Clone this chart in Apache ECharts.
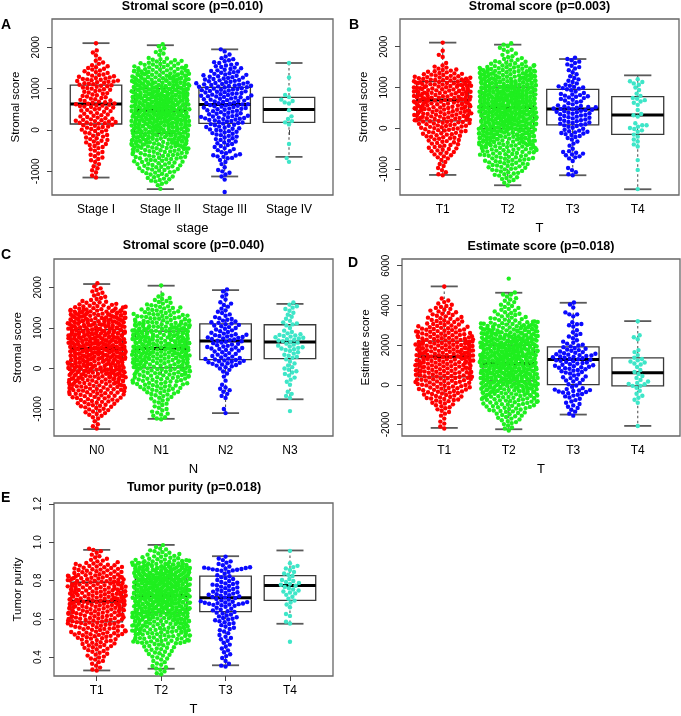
<!DOCTYPE html>
<html><head><meta charset="utf-8">
<script src="https://cdn.jsdelivr.net/npm/echarts@6/dist/echarts.min.js"></script>
<style>html,body{margin:0;padding:0;background:#fff}#c{width:681px;height:716px}</style>
</head><body><div id="c"></div><script>
// ---------- categories & tick labels ----------
const stageCats = ['Stage I', 'Stage II', 'Stage III', 'Stage IV'];
const tCats = ['T1', 'T2', 'T3', 'T4'];
const nCats = ['N0', 'N1', 'N2', 'N3'];
const stromalTicks = [-1000, 0, 1000, 2000];
const estimateTicks = [-2000, 0, 2000, 4000, 6000];
const purityTicks = [0.4, 0.6, 0.8, 1.0, 1.2];

// ---------- point rows: [value, number of points at that value] ----------
// A: Stromal score by stage
const aStage1 = [[2100,1],[1900,2],[1800,1],[1700,2],[1600,3],[1500,5],[1400,5],[1300,7],[1200,10],[1100,8],[1000,7],[900,6],[800,6],[700,7],[600,9],[500,7],[400,6],[300,7],[200,10],[100,7],[0,6],[-100,5],[-200,5],[-300,5],[-400,4],[-500,3],[-600,3],[-700,3],[-800,2],[-900,2],[-1000,2],[-1100,1],[-1150,1]];
const aStage2 = [[2050,2],[1950,2],[1850,3],[1700,7],[1600,10],[1500,13],[1400,18],[1300,20],[1200,22],[1100,24],[1000,26],[900,28],[800,30],[700,30],[600,30],[500,30],[400,30],[300,28],[200,28],[100,26],[0,26],[-100,24],[-200,22],[-300,20],[-400,18],[-500,14],[-600,12],[-700,11],[-800,10],[-900,9],[-1000,8],[-1100,6],[-1200,6],[-1300,3],[-1420,1]];
const aStage3 = [[1950,1],[1900,1],[1800,2],[1700,4],[1600,5],[1500,6],[1400,7],[1300,9],[1200,9],[1100,12],[1000,11],[900,10],[800,11],[700,9],[600,10],[500,9],[400,8],[300,11],[200,8],[100,7],[0,7],[-100,6],[-200,5],[-300,5],[-400,4],[-500,4],[-600,4],[-650,3],[-700,2],[-800,2],[-900,1],[-1000,3],[-1100,2],[-1200,1],[-1500,1]];
const aStage4 = [[1620,1],[1270,1],[980,1],[820,2],[700,3],[640,1],[480,1],[330,1],[240,2],[160,2],[-340,1],[-680,1],[-770,1]];
const aBox = [[-1150,145,627,1085,2100],[-1430,-80,480,1000,2050],[-1124,160,618,1030,1950],[-650,185,498,787,1620]];

// B: Stromal score by T
const bT1 = [[2100,1],[1900,1],[1800,1],[1750,1],[1600,1],[1500,4],[1400,7],[1300,10],[1200,15],[1100,17],[1000,17],[900,18],[800,17],[700,18],[600,17],[500,16],[400,15],[300,15],[200,15],[100,11],[0,10],[-100,9],[-200,8],[-300,7],[-400,6],[-500,6],[-600,5],[-700,4],[-800,2],[-900,2],[-1000,2],[-1100,2],[-1150,1]];
const bT2 = [[2050,3],[1950,2],[1900,2],[1800,3],[1700,5],[1600,8],[1500,14],[1400,18],[1300,20],[1200,22],[1100,24],[1000,26],[900,28],[800,30],[700,30],[600,30],[500,30],[400,30],[300,28],[200,28],[100,26],[0,26],[-100,24],[-200,22],[-300,20],[-400,18],[-500,14],[-600,12],[-700,11],[-800,10],[-900,9],[-1000,8],[-1100,6],[-1200,5],[-1300,3],[-1400,1]];
const bT3 = [[1700,3],[1600,3],[1500,3],[1400,2],[1300,2],[1200,3],[1100,3],[1000,7],[900,3],[800,7],[700,5],[600,4],[500,10],[400,8],[300,7],[200,7],[100,7],[0,4],[-100,7],[-200,4],[-300,2],[-400,2],[-500,1],[-600,5],[-700,4],[-800,1],[-1000,2],[-1100,2],[-1150,1]];
const bT4 = [[1180,2],[1100,3],[1000,1],[940,1],[850,1],[770,2],[690,3],[600,2],[450,1],[320,3],[100,2],[40,3],[-50,3],[-180,2],[-300,2],[-420,2],[-780,1],[-1020,1],[-1490,1]];
const bBox = [[-1143,180,694,1143,2100],[-1396,-10,510,1010,2050],[-1151,82,473,955,1698],[-1494,-147,327,776,1298]];

// C: Stromal score by N
const cN0 = [[2100,1],[2000,2],[1900,3],[1800,3],[1700,4],[1600,8],[1500,12],[1400,20],[1300,20],[1200,22],[1100,22],[1000,23],[900,24],[800,24],[700,25],[600,25],[500,25],[400,24],[300,24],[200,23],[100,22],[0,22],[-100,21],[-200,19],[-300,18],[-400,16],[-500,14],[-600,13],[-700,11],[-800,9],[-900,8],[-1000,6],[-1100,5],[-1200,3],[-1300,1],[-1400,2],[-1480,1]];
const cN1 = [[2050,1],[1800,2],[1700,4],[1600,5],[1500,8],[1400,9],[1300,12],[1200,14],[1100,17],[1000,19],[900,20],[800,21],[700,21],[600,22],[500,22],[400,21],[300,20],[200,19],[100,17],[0,16],[-100,15],[-200,13],[-300,12],[-400,11],[-500,9],[-600,7],[-700,5],[-800,4],[-900,3],[-1000,3],[-1100,4],[-1200,3],[-1250,1]];
const cN2 = [[1950,1],[1900,1],[1800,2],[1700,1],[1600,3],[1500,2],[1400,3],[1300,3],[1200,5],[1100,6],[1000,5],[900,5],[800,9],[700,7],[600,6],[500,8],[400,5],[300,6],[200,9],[100,7],[0,3],[-100,2],[-200,1],[-300,1],[-400,1],[-500,3],[-600,2],[-700,2],[-1000,1],[-1100,1]];
const cN3 = [[1600,2],[1500,3],[1400,2],[1300,2],[1200,2],[1100,4],[1000,1],[900,3],[800,7],[700,6],[600,4],[500,6],[400,3],[300,4],[200,2],[100,2],[0,3],[-100,3],[-200,2],[-300,2],[-400,1],[-600,2],[-700,2],[-1050,1]];
const cBox = [[-1494,-40,490,960,2082],[-1241,16,490,922,2041],[-1100,220,677,1100,1932],[-759,245,653,1078,1592]];

// D: Estimate score by T
const dT1 = [[4950,1],[4300,2],[4100,3],[3900,4],[3700,5],[3500,6],[3300,7],[3100,8],[2900,10],[2700,12],[2500,13],[2300,14],[2100,16],[1900,16],[1700,17],[1500,17],[1300,17],[1100,16],[900,16],[700,15],[500,14],[300,13],[100,12],[-100,11],[-300,10],[-500,8],[-700,8],[-900,5],[-1100,4],[-1300,3],[-1500,2],[-1700,1],[-1900,2],[-2100,1],[-2200,1]];
const dT2 = [[5350,1],[4600,2],[4500,2],[4300,3],[4100,3],[3900,4],[3700,5],[3500,6],[3300,8],[3100,14],[2900,18],[2700,20],[2500,22],[2300,24],[2100,26],[1900,28],[1700,28],[1500,28],[1300,28],[1100,28],[900,28],[700,28],[500,26],[300,26],[100,24],[-100,22],[-300,20],[-500,17],[-700,14],[-900,12],[-1100,10],[-1300,8],[-1500,6],[-1700,5],[-1900,4],[-2100,2],[-2250,2]];
const dT3 = [[4100,2],[3900,1],[3600,2],[3500,2],[3100,2],[3000,3],[2700,2],[2500,3],[2300,2],[2100,4],[1900,5],[1700,6],[1500,9],[1300,8],[1100,7],[900,8],[700,6],[500,4],[300,5],[100,3],[-100,3],[-300,8],[-500,5],[-700,3],[-900,3],[-1100,3],[-1300,2],[-1500,2]];
const dT4 = [[3200,1],[2450,2],[2300,1],[1700,2],[1500,1],[1300,3],[1100,4],[900,1],[700,2],[500,2],[300,2],[100,3],[0,2],[-100,2],[-300,1],[-500,2],[-700,2],[-900,1],[-2070,1]];
const dBox = [[-2168,403,1412,2200,4958],[-2235,202,1076,2000,4639],[-1496,17,1277,1916,4134],[-2067,-50,605,1361,3210]];

// E: Tumor purity by T
const eT1 = [[0.96,3],[0.94,2],[0.92,3],[0.90,5],[0.88,9],[0.86,10],[0.84,10],[0.82,15],[0.80,14],[0.78,15],[0.76,15],[0.74,16],[0.72,15],[0.70,16],[0.68,15],[0.66,15],[0.64,14],[0.62,14],[0.60,13],[0.58,12],[0.56,11],[0.54,10],[0.52,12],[0.50,8],[0.48,7],[0.46,7],[0.44,5],[0.42,4],[0.40,4],[0.38,3],[0.36,2],[0.34,2],[0.33,1]];
const eT2 = [[0.98,2],[0.96,4],[0.94,6],[0.92,8],[0.90,14],[0.88,22],[0.86,24],[0.84,26],[0.82,28],[0.80,30],[0.78,30],[0.76,30],[0.74,30],[0.72,30],[0.70,28],[0.68,28],[0.66,26],[0.64,24],[0.62,22],[0.60,20],[0.58,18],[0.56,16],[0.54,16],[0.52,15],[0.50,12],[0.48,14],[0.46,6],[0.44,6],[0.42,5],[0.40,4],[0.38,3],[0.36,3],[0.34,3],[0.32,2],[0.31,1]];
const eT3 = [[0.92,2],[0.90,3],[0.88,3],[0.86,11],[0.84,2],[0.82,4],[0.80,4],[0.78,6],[0.76,5],[0.74,6],[0.72,7],[0.70,5],[0.68,11],[0.66,4],[0.64,5],[0.62,4],[0.60,5],[0.58,4],[0.56,3],[0.54,3],[0.52,2],[0.50,3],[0.48,2],[0.46,2],[0.44,2],[0.42,2],[0.40,2],[0.38,1],[0.36,2],[0.35,1]];
const eT4 = [[0.955,1],[0.89,1],[0.87,3],[0.85,2],[0.83,3],[0.80,4],[0.78,4],[0.76,3],[0.74,4],[0.72,2],[0.70,2],[0.68,2],[0.66,1],[0.62,2],[0.58,2],[0.48,1]];
const eBox = [[0.330,0.584,0.692,0.791,0.960],[0.339,0.631,0.722,0.809,0.986],[0.357,0.637,0.710,0.823,0.927],[0.574,0.696,0.774,0.826,0.957]];

// ---------- layout & style ----------
const COLORS = ['#ff0000', '#1fef1f', '#0a0aff', '#3ee6c8'];
const FONT = '"Liberation Sans", Arial, Helvetica, sans-serif';
const BOX_HW = 0.4, CAP_HW = 0.21;
const DOT = 4.4;          // point diameter (px)
const CORRAL = 58;        // swarm wrap width (px)

const panels = [
  { grid: {left: 52, top: 19, width: 281, height: 176}, xr: [0.316, 4.684], yr: [-1572, 2684], cats: stageCats, ticks: stromalTicks, step: 100,
    xName: 'stage', yName: 'Stromal score', title: 'Stromal score (p=0.010)', tx: 192.5, ty: 0, letter: 'A', lx: 1, ly: 18,
    groups: [aStage1, aStage2, aStage3, aStage4], box: aBox },
  { grid: {left: 400, top: 19, width: 279, height: 176}, xr: [0.343, 4.635], yr: [-1635, 2679], cats: tCats, ticks: stromalTicks, step: 100,
    xName: 'T', yName: 'Stromal score', title: 'Stromal score (p=0.003)', tx: 539.5, ty: 0, letter: 'B', lx: 349, ly: 18.5,
    groups: [bT1, bT2, bT3, bT4], box: bBox },
  { grid: {left: 54, top: 259, width: 279, height: 177}, xr: [0.337, 4.668], yr: [-1664, 2699], cats: nCats, ticks: stromalTicks, step: 100,
    xName: 'N', yName: 'Stromal score', title: 'Stromal score (p=0.040)', tx: 193.5, ty: 239.5, letter: 'C', lx: 1, ly: 248,
    groups: [cN0, cN1, cN2, cN3], box: cBox },
  { grid: {left: 402, top: 259, width: 278, height: 177}, xr: [0.345, 4.655], yr: [-2575, 6338], cats: tCats, ticks: estimateTicks, step: 200,
    xName: 'T', yName: 'Estimate score', title: 'Estimate score (p=0.018)', tx: 541, ty: 240, letter: 'D', lx: 348, ly: 256,
    groups: [dT1, dT2, dT3, dT4], box: dBox },
  { grid: {left: 54, top: 503, width: 279, height: 173}, xr: [0.337, 4.668], yr: [0.301, 1.205], cats: tCats, ticks: purityTicks, step: 0.02,
    xName: 'T', yName: 'Tumor purity', title: 'Tumor purity (p=0.018)', tx: 194, ty: 481, letter: 'E', lx: 1, ly: 491,
    groups: [eT1, eT2, eT3, eT4], box: eBox, dec: 1 }
];

function renderBox(params, api) {
  const x = api.value(0), mn = api.value(1), q1 = api.value(2), md = api.value(3), q3 = api.value(4), mx = api.value(5);
  const a = api.coord([x - BOX_HW, q3]), b = api.coord([x + BOX_HW, q1]);
  const m1 = api.coord([x - BOX_HW, md]), m2 = api.coord([x + BOX_HW, md]);
  const t = api.coord([x, mx]), bt = api.coord([x, mn]), c3 = api.coord([x, q3]), c1 = api.coord([x, q1]);
  const cl = api.coord([x - CAP_HW, mx])[0], cr = api.coord([x + CAP_HW, mx])[0];
  const dash = { stroke: '#555', lineWidth: 1.1, lineDash: [2.5, 2.5] };
  const cap = { stroke: '#5a5a5a', lineWidth: 1.8 };
  return { type: 'group', children: [
    { type: 'line', shape: {x1: t[0], y1: t[1], x2: c3[0], y2: c3[1]}, style: dash },
    { type: 'line', shape: {x1: c1[0], y1: c1[1], x2: bt[0], y2: bt[1]}, style: dash },
    { type: 'line', shape: {x1: cl, y1: t[1], x2: cr, y2: t[1]}, style: cap },
    { type: 'line', shape: {x1: cl, y1: bt[1], x2: cr, y2: bt[1]}, style: cap },
    { type: 'rect', shape: {x: a[0], y: a[1], width: b[0] - a[0], height: b[1] - a[1]}, style: {fill: 'none', stroke: '#383838', lineWidth: 1.3} },
    { type: 'line', shape: {x1: m1[0], y1: m1[1], x2: m2[0], y2: m2[1]}, style: {stroke: '#000', lineWidth: 3} }
  ]};
}

const option = { animation: false, backgroundColor: '#fff', title: [], grid: [], xAxis: [], yAxis: [], series: [] };
const catValues = [1, 2, 3, 4];
const scatterRefs = [];
panels.forEach((p, i) => {
  option.grid.push(Object.assign({ show: true, borderColor: '#666', borderWidth: 1.3, backgroundColor: 'transparent', containLabel: false, outerBoundsMode: 'none' }, p.grid));
  option.title.push({ text: p.title, left: p.tx, top: p.ty, textAlign: 'center', padding: 0,
    textStyle: { fontFamily: FONT, fontSize: 12.5, fontWeight: 'bold', color: '#000' } });
  option.title.push({ text: p.letter, left: p.lx, top: p.ly, padding: 0,
    textStyle: { fontFamily: FONT, fontSize: 14, fontWeight: 'bold', color: '#000' } });
  option.xAxis.push({ type: 'value', gridIndex: i, min: p.xr[0], max: p.xr[1],
    axisLine: { show: false }, splitLine: { show: false },
    axisTick: { show: true, length: 5, customValues: catValues, lineStyle: { color: '#444' } },
    axisLabel: { customValues: catValues, formatter: v => p.cats[Math.round(v) - 1], margin: 9, fontFamily: FONT, fontSize: 12, color: '#000' },
    name: p.xName, nameLocation: 'middle', nameGap: 27, nameTextStyle: { fontFamily: FONT, fontSize: 13, color: '#000' } });
  option.yAxis.push({ type: 'value', gridIndex: i, min: p.yr[0], max: p.yr[1],
    axisLine: { show: false }, splitLine: { show: false },
    axisTick: { show: true, length: 5, customValues: p.ticks, lineStyle: { color: '#444' } },
    axisLabel: { customValues: p.ticks, rotate: 90, margin: 11, fontFamily: FONT, fontSize: 10, color: '#000',
      formatter: v => p.dec ? Number(v).toFixed(1) : String(v) },
    name: p.yName, nameLocation: 'middle', nameRotate: 90, nameGap: 30, nameTextStyle: { fontFamily: FONT, fontSize: 11.5, color: '#000' } });
  option.series.push({ type: 'custom', xAxisIndex: i, yAxisIndex: i, z: 1, renderItem: renderBox,
    encode: { x: 0, y: [1, 2, 3, 4, 5] }, data: p.box.map((b, j) => [catValues[j]].concat(b)) });
  p.groups.forEach((g, j) => {
    scatterRefs.push({ panel: i, group: j, index: option.series.length });
    const data = [];
    g.forEach(([v, n]) => { for (let k = 0; k < n; k++) data.push([catValues[j], v]); });
    option.series.push({ type: 'scatter', xAxisIndex: i, yAxisIndex: i, z: 2, symbol: 'circle', symbolSize: DOT,
      itemStyle: { color: COLORS[j], opacity: 1 }, silent: true, data: data });
  });
});

const chart = echarts.init(document.getElementById('c'), null, { renderer: 'canvas' });
chart.setOption(option);

// ---------- beeswarm layout (pixel offsets only; values unchanged) ----------
function swarmOffsets(panel, i, j) {
  const g = panel.groups[j], xv = catValues[j], f = { gridIndex: i };
  const pts = [];
  g.forEach(([v, n]) => {
    const py = chart.convertToPixel(f, [xv, v])[1];
    const h = Math.abs(chart.convertToPixel(f, [xv, v + panel.step / 2])[1] - chart.convertToPixel(f, [xv, v - panel.step / 2])[1]);
    for (let k = 0; k < n; k++) {
      const dy = n > 1 ? ((k + 0.5) / n - 0.5) * h : 0;
      pts.push({ v, dy, y: py + dy });
    }
  });
  const sorted = pts.slice().sort((a, b) => b.y - a.y);
  const placed = [];
  const d2 = DOT * DOT;
  sorted.forEach(pt => {
    const nb = [];
    for (let q = placed.length - 1; q >= 0; q--) {
      if (Math.abs(placed[q].y - pt.y) >= DOT) break;
      nb.push(placed[q]);
    }
    const cands = [0];
    nb.forEach(q => { const dx = Math.sqrt(Math.max(d2 - (q.y - pt.y) ** 2, 0)); cands.push(q.x + dx, q.x - dx); });
    cands.sort((a, b) => Math.abs(a) - Math.abs(b) || a - b);
    let x = cands[cands.length - 1];
    for (const c of cands) {
      if (nb.every(q => (q.x - c) ** 2 + (q.y - pt.y) ** 2 >= d2 - 1e-6)) { x = c; break; }
    }
    pt.x = x;
    placed.push(pt);
  });
  return pts.map(pt => {
    const W = CORRAL;
    const xw = ((pt.x + W / 2) % W + W) % W - W / 2;
    return { value: [xv, pt.v], symbolOffset: [xw, pt.dy] };
  });
}

const updates = option.series.map(() => ({}));
scatterRefs.forEach(r => { updates[r.index] = { data: swarmOffsets(panels[r.panel], r.panel, r.group) }; });
chart.setOption({ series: updates });
</script></body></html>
